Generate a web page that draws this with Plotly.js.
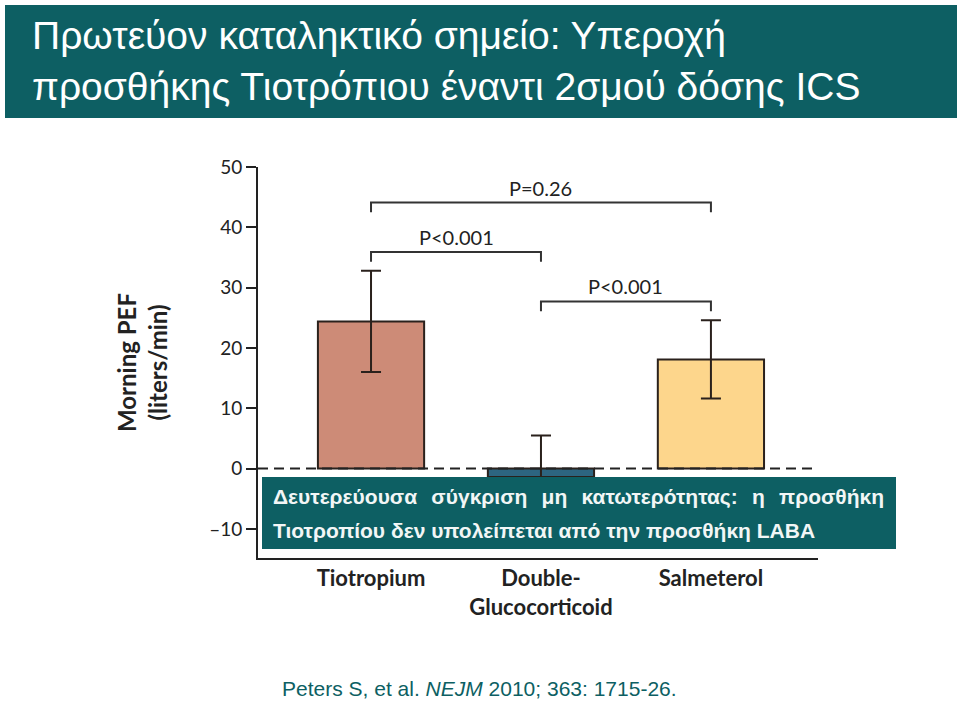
<!DOCTYPE html>
<html>
<head>
<meta charset="utf-8">
<script src="https://cdn.plot.ly/plotly-3.0.1.min.js"></script>
<style>
  html, body { margin: 0; padding: 0; background: #ffffff; }
  #chart { width: 960px; height: 701px; }
</style>
</head>
<body>
<div id="chart"></div>
<script>
// ---- Data ----
const categories = ['Tiotropium', 'Double-<br>Glucocorticoid', 'Salmeterol'];
const pefChange = [24.4, -1.4, 18.1];          // morning PEF change (liters/min)
const pefError = [8.4, 6.9, 6.5];              // error bar half-lengths
const yTickValues = [-10, 0, 10, 20, 30, 40, 50];
const yTickLabels = ['\u201310', '0', '10', '20', '30', '40', '50'];
const comparisonFrom = [0, 0, 1];              // bracket start (category index)
const comparisonTo = [2, 1, 2];                // bracket end (category index)
const comparisonLevel = [44.1, 35.9, 27.7];    // bracket height (axis units)
const comparisonLabels = ['P=0.26', 'P&lt;0.001', 'P&lt;0.001'];

// ---- Styles ----
const teal = '#0d5f63';
const ink = '#2a211c';
const barColors = ['#cd8b77', '#2d6580', '#fdd68c'];
const xIdx = categories.map((c, i) => i);

const trace = {
  type: 'bar',
  x: xIdx,
  y: pefChange,
  width: 0.625,
  marker: { color: barColors, line: { color: ink, width: 2 } },
  error_y: { type: 'data', array: pefError, visible: true, color: ink, thickness: 2, width: 10 },
  hoverinfo: 'skip'
};

const shapes = [];
const annotations = [];

// title banner background
shapes.push({ type: 'rect', xref: 'paper', yref: 'paper', layer: 'above',
  x0: (5 - 258) / 560, x1: (957 - 258) / 560,
  y0: (558 - 118) / 391, y1: (558 - 5) / 391,
  fillcolor: teal, line: { width: 0 } });

// dashed zero line
shapes.push({ type: 'line', xref: 'paper', yref: 'y', layer: 'above',
  x0: 0, x1: 1, y0: 0, y1: 0,
  line: { color: '#222', width: 2, dash: '10px,6px' } });

// comparison brackets
const drop = 1.6;
for (let i = 0; i < comparisonLevel.length; i++) {
  const a = comparisonFrom[i], b = comparisonTo[i], h = comparisonLevel[i];
  shapes.push({ type: 'path', xref: 'x', yref: 'y', layer: 'above',
    path: `M ${a} ${h - drop} L ${a} ${h} L ${b} ${h} L ${b} ${h - drop}`,
    line: { color: '#333', width: 2 } });
  annotations.push({ xref: 'x', yref: 'y', x: (a + b) / 2, y: h, yshift: 1,
    xanchor: 'center', yanchor: 'bottom', showarrow: false,
    text: comparisonLabels[i],
    font: { family: 'Lato, "Open Sans", sans-serif', size: 20, color: '#222' } });
}

// teal note box
shapes.push({ type: 'rect', xref: 'paper', yref: 'paper', layer: 'above',
  x0: (262 - 258) / 560, x1: (896 - 258) / 560,
  y0: (558 - 549) / 391, y1: (558 - 477) / 391,
  fillcolor: teal, line: { width: 0 } });

const noteFont = { family: '"Liberation Sans", Arial, sans-serif', size: 21, color: '#f2f6f6', weight: 'bold' };
const gap = '\u2009\u2009 ';
annotations.push({ xref: 'paper', yref: 'paper', x: (271 - 258) / 560, y: (558 - 497) / 391,
  xanchor: 'left', yanchor: 'middle', showarrow: false, font: noteFont,
  text: ['Δευτερεύουσα', 'σύγκριση', 'μη', 'κατωτερότητας:', 'η', 'προσθήκη'].join(gap) });
annotations.push({ xref: 'paper', yref: 'paper', x: (271 - 258) / 560, y: (558 - 530) / 391,
  xanchor: 'left', yanchor: 'middle', showarrow: false, font: noteFont,
  text: 'Τιοτροπίου δεν υπολείπεται από την προσθήκη LABA' });

// citation
annotations.push({ xref: 'paper', yref: 'paper', x: (479 - 258) / 560, y: (558 - 688) / 391,
  xanchor: 'center', yanchor: 'middle', showarrow: false,
  font: { family: '"Liberation Sans", Arial, sans-serif', size: 21, color: teal },
  text: 'Peters S, et al. <i>NEJM</i> 2010; 363: 1715-26.' });

const layout = {
  width: 960, height: 701,
  margin: { l: 258, r: 142, t: 167, b: 143 },
  paper_bgcolor: '#ffffff', plot_bgcolor: '#ffffff',
  showlegend: false,
  title: {
    text: 'Πρωτεύον καταληκτικό σημείο: Υπεροχή<br>προσθήκης Τιοτρόπιου έναντι 2σμού δόσης ICS',
    font: { family: '"Liberation Sans", Arial, sans-serif', size: 39, color: '#ffffff' },
    xref: 'container', yref: 'container', x: 32 / 960, xanchor: 'left', y: 1 - 49 / 701, yanchor: 'top'
  },
  xaxis: {
    range: [-0.665, 2.63], tickvals: xIdx, ticktext: categories, ticks: '',
    showline: true, linecolor: '#222', linewidth: 2, showgrid: false, zeroline: false,
    tickfont: { family: 'Lato, "Open Sans", sans-serif', size: 22, color: '#222', weight: 'bold' },
    fixedrange: true
  },
  yaxis: {
    range: [-14.83, 50], tickvals: yTickValues, ticktext: yTickLabels,
    ticks: 'outside', ticklen: 10, tickwidth: 2, tickcolor: '#222',
    showline: true, linecolor: '#222', linewidth: 2, showgrid: false, zeroline: false,
    tickfont: { family: 'Lato, "Open Sans", sans-serif', size: 19, color: '#222' },
    title: { text: 'Morning PEF<br>(liters/min)', standoff: 35,
      font: { family: 'Lato, "Open Sans", sans-serif', size: 24, color: '#222', weight: 'bold' } },
    fixedrange: true
  },
  shapes: shapes,
  annotations: annotations
};

Plotly.newPlot('chart', [trace], layout, { displayModeBar: false, staticPlot: true });
</script>
</body>
</html>
